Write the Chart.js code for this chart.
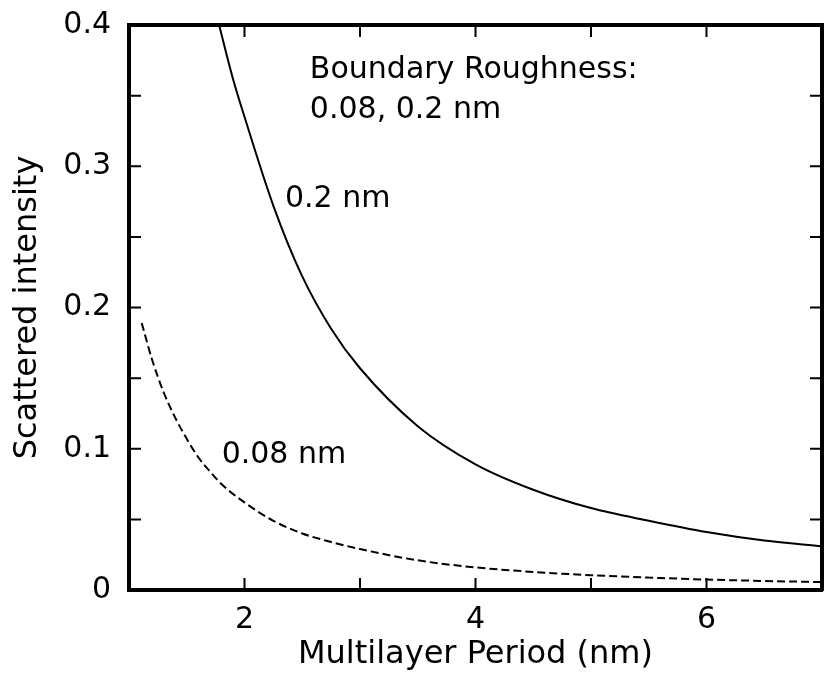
<!DOCTYPE html>
<html>
<head>
<meta charset="utf-8">
<script src="https://cdn.jsdelivr.net/npm/chart.js@4.4.1/dist/chart.umd.min.js"></script>
<style>
  html, body { margin: 0; padding: 0; background: #fff; }
  #wrap { width: 827px; height: 682px; }
</style>
</head>
<body>
<div id="wrap"><canvas id="chart" width="827" height="682"></canvas></div>
<script>
// Scattered intensity vs. multilayer period for two boundary roughness values
const periodRough02 = [1.78, 1.9, 2.0, 2.25, 2.5, 2.75, 3.0, 3.5, 4.0, 4.5, 5.0, 5.5, 6.0, 6.5, 7.0];
const intensityRough02 = [0.400, 0.362, 0.335, 0.272, 0.222, 0.185, 0.157, 0.116, 0.089, 0.071, 0.058, 0.049, 0.041, 0.035, 0.031];

const periodRough008 = [1.11, 1.2, 1.3, 1.4, 1.5, 1.6, 1.7, 1.8, 2.0, 2.25, 2.5, 2.75, 3.0, 3.5, 4.0, 4.5, 5.0, 5.5, 6.0, 6.5, 7.0];
const intensityRough008 = [0.189, 0.163, 0.140, 0.122, 0.107, 0.094, 0.084, 0.075, 0.062, 0.049, 0.040, 0.034, 0.029, 0.021, 0.016, 0.0128, 0.0105, 0.0088, 0.0074, 0.0064, 0.0056];

// Axis ticks
const xTickLabels = [2, 4, 6];
const xTickMarks = [2, 3, 4, 5, 6];
const yTickValues = [0, 0.1, 0.2, 0.3, 0.4];
const yTickLabels = ['0', '0.1', '0.2', '0.3', '0.4'];
const yTickMarks = [0.05, 0.1, 0.15, 0.2, 0.25, 0.3, 0.35];

// Text placed inside the plot (data coordinates, left edge / baseline)
const notes = [
  { text: 'Boundary Roughness:', x: 2.566, y: 0.3623 },
  { text: '0.08, 0.2 nm',        x: 2.566, y: 0.334 },
  { text: '0.2 nm',              x: 2.35,  y: 0.2713 },
  { text: '0.08 nm',             x: 1.802, y: 0.0901 }
];

const FONT = "'DejaVu Sans', 'Liberation Sans', sans-serif";
const INK = '#000';

const toPoints = (xs, ys) => xs.map((v, i) => ({ x: v, y: ys[i] }));

const frame = { display: true, width: 4, color: INK };
const noGrid = { display: true, drawOnChartArea: false, drawTicks: false };

// keep the frame flush with the fixed scale sizes
const noLabelPadding = s => {
  s.paddingTop = 0; s.paddingBottom = 0; s.paddingLeft = 0; s.paddingRight = 0;
};

const insideTicks = {
  id: 'insideTicks',
  afterDatasetsDraw(chart) {
    const { ctx, chartArea: a, scales: { x, y } } = chart;
    const len = 12;
    ctx.save();
    ctx.strokeStyle = INK;
    ctx.lineWidth = 2;
    ctx.beginPath();
    xTickMarks.forEach(v => {
      const px = x.getPixelForValue(v);
      ctx.moveTo(px, a.bottom); ctx.lineTo(px, a.bottom - len);
      ctx.moveTo(px, a.top);    ctx.lineTo(px, a.top + len);
    });
    yTickMarks.forEach(v => {
      const py = y.getPixelForValue(v);
      ctx.moveTo(a.left, py);  ctx.lineTo(a.left + len, py);
      ctx.moveTo(a.right, py); ctx.lineTo(a.right - len, py);
    });
    ctx.stroke();

    ctx.fillStyle = INK;
    ctx.font = '30px ' + FONT;
    ctx.textAlign = 'left';
    ctx.textBaseline = 'alphabetic';
    notes.forEach(n => ctx.fillText(n.text, x.getPixelForValue(n.x), y.getPixelForValue(n.y)));
    ctx.restore();
  }
};

new Chart(document.getElementById('chart'), {
  type: 'line',
  data: {
    datasets: [
      {
        label: '0.2 nm',
        data: toPoints(periodRough02, intensityRough02),
        borderColor: INK,
        borderWidth: 2,
        pointRadius: 0,
        cubicInterpolationMode: 'monotone',
        fill: false
      },
      {
        label: '0.08 nm',
        data: toPoints(periodRough008, intensityRough008),
        borderColor: INK,
        borderWidth: 2,
        borderDash: [8, 4],
        pointRadius: 0,
        cubicInterpolationMode: 'monotone',
        fill: false
      }
    ]
  },
  options: {
    responsive: false,
    animation: false,
    devicePixelRatio: 1,
    layout: { padding: 0 },
    plugins: { legend: { display: false }, tooltip: { enabled: false } },
    scales: {
      x: {
        type: 'linear', position: 'bottom', min: 1, max: 7,
        afterBuildTicks: s => { s.ticks = xTickLabels.map(v => ({ value: v })); },
        afterFit: s => { s.height = 92; noLabelPadding(s); },
        grid: noGrid, border: frame,
        ticks: { color: INK, font: { family: FONT, size: 30 }, padding: 12, maxRotation: 0, autoSkip: false },
        title: { display: true, text: 'Multilayer Period (nm)', color: INK,
                 font: { family: FONT, size: 32 }, padding: { top: 0, bottom: 8 } }
      },
      xTop: {
        type: 'linear', position: 'top', min: 1, max: 7,
        afterFit: s => { s.height = 25; noLabelPadding(s); },
        grid: noGrid, border: frame,
        ticks: { display: false }
      },
      y: {
        type: 'linear', position: 'left', min: 0, max: 0.4,
        afterBuildTicks: s => { s.ticks = yTickValues.map(v => ({ value: v })); },
        afterFit: s => { s.width = 129; noLabelPadding(s); },
        grid: noGrid, border: frame,
        ticks: {
          color: INK, font: { family: FONT, size: 30 }, padding: 18, autoSkip: false,
          callback: v => yTickLabels[yTickValues.indexOf(v)]
        },
        title: { display: true, text: 'Scattered intensity', color: INK,
                 font: { family: FONT, size: 32 }, padding: { top: 8, bottom: 0 } }
      },
      yRight: {
        type: 'linear', position: 'right', min: 0, max: 0.4,
        afterFit: s => { s.width = 5; noLabelPadding(s); },
        grid: noGrid, border: frame,
        ticks: { display: false }
      }
    }
  },
  plugins: [insideTicks]
});
</script>
</body>
</html>
